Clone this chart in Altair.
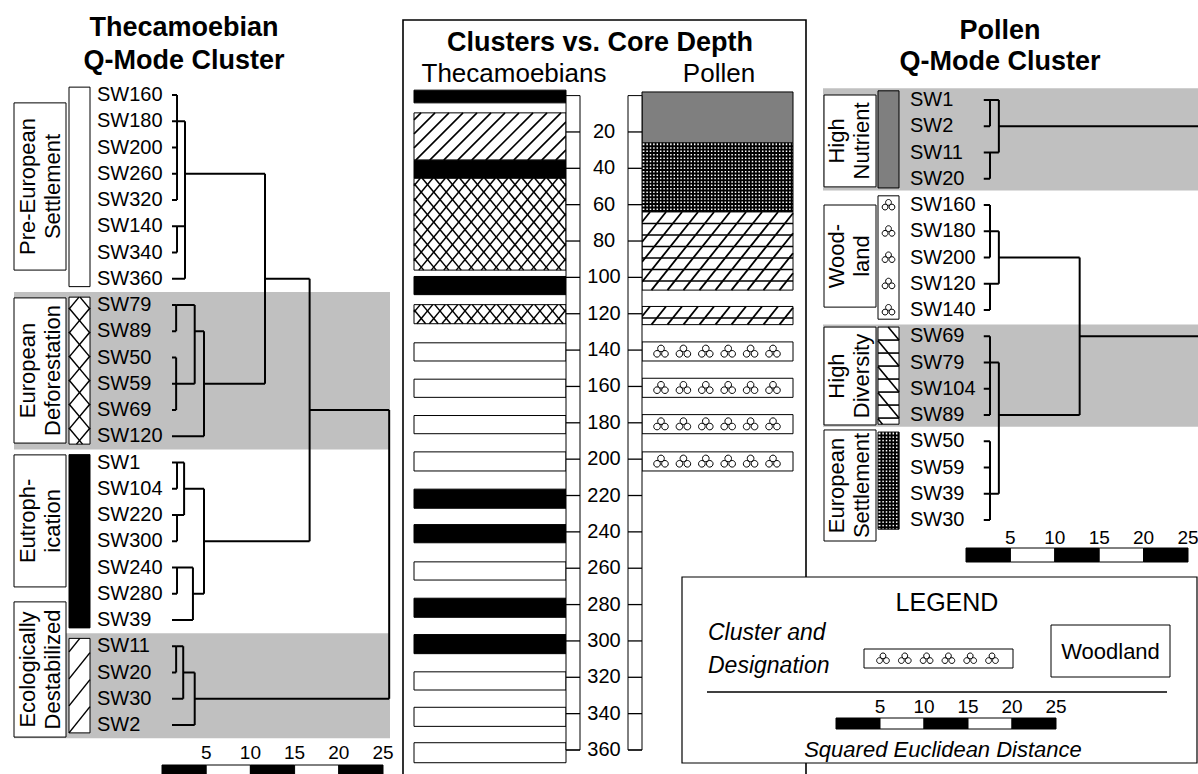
import altair as alt
import pandas as pd

W, H = 1198, 774
FONT = "Liberation Sans"

# ------------------------------------------------------------------ data
# Thecamoebian Q-mode cluster (left dendrogram), leaves top to bottom
thec_labels = ["SW160", "SW180", "SW200", "SW260", "SW320", "SW140", "SW340", "SW360",
               "SW79", "SW89", "SW50", "SW59", "SW69", "SW120",
               "SW1", "SW104", "SW220", "SW300", "SW240", "SW280", "SW39",
               "SW11", "SW20", "SW30", "SW2"]
thec_leaf_cluster = [0] * 8 + [1] * 6 + [2] * 7 + [3] * 4
thec_cluster_names = ["Pre-European Settlement", "European Deforestation",
                      "Eutrophication", "Ecologically Destabilized"]
thec_cluster_lines = [["Pre-European", "Settlement"], ["European", "Deforestation"],
                      ["Eutroph-", "ication"], ["Ecologically", "Destabilized"]]
# merges: (node, children, squared euclidean distance, leaf row the node continues from)
thec_merges = [
    ("a1", ["SW160", "SW180", "SW200", "SW260", "SW320"], 1.7, 1),
    ("a2", ["SW140", "SW340"], 1.7, 5),
    ("a3", ["a1", "a2", "SW360"], 2.6, 3),
    ("b1", ["SW79", "SW89"], 1.6, 8),
    ("b2", ["SW50", "SW59", "SW69"], 1.6, 11),
    ("b3", ["b1", "b2"], 3.7, 9),
    ("b4", ["b3", "SW120"], 4.75, 11),
    ("c0", ["a3", "b4"], 11.65, 7),
    ("e1", ["SW1", "SW104"], 1.7, 14),
    ("e2", ["SW220", "SW300"], 1.7, 16),
    ("e3", ["e1", "e2"], 2.5, 15),
    ("e4", ["SW240", "SW280"], 1.7, 18),
    ("e5", ["e4", "SW39"], 3.5, 19),
    ("e6", ["e3", "e5"], 4.75, 17),
    ("c1", ["c0", "e6"], 16.7, 12),
    ("d1", ["SW11", "SW20"], 1.6, 21),
    ("d2", ["d1", "SW30"], 2.4, 22),
    ("d3", ["d2", "SW2"], 3.7, 23),
    ("root", ["c1", "d3"], 25.7, 17),
]

# Pollen Q-mode cluster (right dendrogram)
pollen_labels = ["SW1", "SW2", "SW11", "SW20", "SW160", "SW180", "SW200", "SW120", "SW140",
                 "SW69", "SW79", "SW104", "SW89", "SW50", "SW59", "SW39", "SW30"]
pollen_leaf_cluster = [0] * 4 + [1] * 5 + [2] * 4 + [3] * 4
pollen_cluster_names = ["High Nutrient", "Woodland", "High Diversity", "European Settlement"]
pollen_cluster_lines = [["High", "Nutrient"], ["Wood-", "land"],
                        ["High", "Diversity"], ["European", "Settlement"]]
pollen_merges = [
    ("p1", ["SW1", "SW2"], 2.7, 0),
    ("p2", ["SW11", "SW20"], 2.7, 2),
    ("p3", ["p1", "p2"], 3.7, 1),
    ("p4", ["SW160", "SW180", "SW200"], 2.7, 5),
    ("p5", ["SW120", "SW140"], 2.7, 7),
    ("p6", ["p4", "p5"], 3.7, 6),
    ("p7", ["SW69", "SW79", "SW104", "SW89"], 2.7, 10),
    ("p8", ["SW50", "SW59", "SW39", "SW30"], 2.7, 15),
    ("p9", ["p7", "p8"], 3.7, 12),
    ("p10", ["p6", "p9"], 12.8, 9),
    ("root", ["p3", "p10"], 27.0, 5),
]

# Clusters vs. core depth (cm)
thec_bar_top = [-3, 9.5, 35.5, 45.5, 99.5, 115, 136, 156, 176, 196, 216.5, 236,
                256.5, 276.5, 296.5, 317, 336.5, 356]
thec_bar_bottom = [4, 35.5, 45.5, 96, 109.5, 125.5, 146, 166, 186, 206.5, 227, 246,
                   266.5, 287, 307, 327, 347, 367]
thec_bar_cluster = [2, 3, 2, 1, 2, 1, 0, 0, 0, 0, 2, 2, 0, 2, 2, 0, 0, 0]
pollen_bar_top = [-2, 26, 64, 116, 135.5, 155.5, 175.5, 196]
pollen_bar_bottom = [26, 64, 107, 126, 146, 166, 186, 206.5]
pollen_bar_cluster = [0, 3, 2, 2, 1, 1, 1, 1]
depth_ticks = [20, 40, 60, 80, 100, 120, 140, 160, 180, 200, 220, 240, 260, 280, 300,
               320, 340, 360]
distance_ticks = [5, 10, 15, 20, 25]

# ------------------------------------------------------------------ scales
def S(domain, rng):
    return alt.Scale(domain=list(domain), range=list(rng), nice=False, zero=False)

PX_X = S([0, W], [0, W])
PX_Y = S([0, H], [0, H])
XL = S([0, 25], [162, 383]);   YL = S([0, 24], [95, 725])
XR = S([0, 25], [966, 1188]);  YR = S([0, 16], [100, 520])
YD = S([0, 360], [95.6, 750]); XG = S([0, 25], [836, 1056])
KL = (725 - 95) / 24
KR = (520 - 100) / 16
KD = (750 - 95.6) / 360


def geo(rows, mark, xs, ys, **mk):
    df = pd.DataFrame(rows)
    enc = {"x": alt.X("x:Q", scale=xs, axis=None), "y": alt.Y("y:Q", scale=ys, axis=None)}
    if "x2" in df.columns:
        enc["x2"] = alt.X2("x2")
    if "y2" in df.columns:
        enc["y2"] = alt.Y2("y2")
    if "fill" in df.columns:
        enc["fill"] = alt.Fill("fill:N", scale=None)
    if "stroke" in df.columns:
        enc["stroke"] = alt.Stroke("stroke:N", scale=None)
    if "sw" in df.columns:
        enc["strokeWidth"] = alt.StrokeWidth("sw:Q", scale=None)
    if "t" in df.columns:
        enc["text"] = alt.Text("t:N")
    return getattr(alt.Chart(df), "mark_" + mark)(**mk).encode(**enc)


def tree_segments(labels, merges, leaf_start):
    pos = {lab: (leaf_start, i) for i, lab in enumerate(labels)}
    segs = []
    for node, kids, d, row in merges:
        krows = []
        for k in kids:
            kx, kr = pos[k]
            segs.append(dict(x=kx, x2=d, y=kr, y2=kr))
            krows.append(kr)
        segs.append(dict(x=d, x2=d, y=min(krows), y2=max(krows)))
        pos[node] = (d, row)
    return segs


def spans(leaf_cluster):
    sp = {}
    for i, c in enumerate(leaf_cluster):
        lo, hi = sp.get(c, (i, i))
        sp[c] = (min(lo, i), max(hi, i))
    return [sp[c] for c in sorted(sp)]


def hatch(x0, x1, ya, yb, k, kind, dc, m=1.0, sw=1.2):
    """texture lines inside a box; x in pixels, y in data units (k px per unit)"""
    Hh = (yb - ya) * k
    Wd = x1 - x0
    out = []
    if kind == "/":
        c = dc / 2
        while c < m * Wd + Hh:
            Ya, Yb = max(0, c - m * Wd), min(Hh, c)
            if Yb > Ya:
                out.append(dict(x=x0 + (c - Ya) / m, y=ya + Ya / k,
                                x2=x0 + (c - Yb) / m, y2=ya + Yb / k, sw=sw))
            c += dc
    elif kind == "\\":
        c = -m * Wd + dc / 2
        while c < Hh:
            Ya, Yb = max(0, c), min(Hh, c + m * Wd)
            if Yb > Ya:
                out.append(dict(x=x0 + (Ya - c) / m, y=ya + Ya / k,
                                x2=x0 + (Yb - c) / m, y2=ya + Yb / k, sw=sw))
            c += dc
    elif kind == "-":
        Y = dc
        while Y < Hh - 0.5:
            out.append(dict(x=x0, x2=x1, y=ya + Y / k, y2=ya + Y / k, sw=sw))
            Y += dc
    elif kind == "|":
        X = dc
        while X < Wd - 0.5:
            out.append(dict(x=x0 + X, x2=x0 + X, y=ya, y2=yb, sw=sw))
            X += dc
    return out


# glyph for the Woodland cluster: three small loops
def circ(cx, cy, r):
    return (f"M{cx - r},{cy}A{r},{r} 0 1,1 {cx + r},{cy}"
            f"A{r},{r} 0 1,1 {cx - r},{cy}Z")

GLYPH = circ(0, -0.38, 0.42) + circ(-0.5, 0.3, 0.42) + circ(0.5, 0.3, 0.42)

THEC_FILL = ["white", "white", "black", "white"]
THEC_TEX = [[], [("/", 15, 1.2, 1.5), ("\\", 15, 1.2, 1.5)], [], [("/", 14, 1.0, 1.6)]]
THEC_STRIP_TEX = [[], [("/", 24, 1.2, 1.5), ("\\", 24, 1.2, 1.5)], [], [("/", 27, 1.25, 1.5)]]
POL_FILL = ["#7f7f7f", "white", "white", "white"]
POL_TEX = [[], [], [("/", 20, 1.25, 1.8), ("-", 11.5, 1, 1.6)],
           [("|", 3.4, 1, 1.9), ("-", 3.4, 1, 1.9)]]
POL_STRIP_TEX = [[], [], [("\\", 26, 1.2, 1.6), ("-", 13, 1, 1.6)],
                 [("|", 3.4, 1, 1.9), ("-", 3.4, 1, 1.9)]]
SHADE = "#c0c0c0"


def tex_lines(x0, x1, ya, yb, k, spec):
    out = []
    for s in spec:
        kind, dc, m = s[0], s[1], s[2]
        sw = s[3] if len(s) > 3 else 1.3
        out += hatch(x0, x1, ya, yb, k, kind, dc, m, sw)
    return out


layers = []

# ------------------------------------------------------------------ shaded bands
L_sp = spans(thec_leaf_cluster)
R_sp = spans(pollen_leaf_cluster)
layers.append(geo([dict(x=14, x2=390, y=lo - 0.5, y2=hi + 0.5)
                   for c, (lo, hi) in enumerate(L_sp) if c in (1, 3)],
                  "rect", PX_X, YL, fill=SHADE))
layers.append(geo([dict(x=823, x2=W + 5, y=lo - 0.45, y2=hi + 0.45)
                   for c, (lo, hi) in enumerate(R_sp) if c in (0, 2)],
                  "rect", PX_X, YR, fill=SHADE))

# centre frame
layers.append(geo([dict(x=403, x2=806, y=20, y2=H + 20)], "rect", PX_X, PX_Y,
                  fillOpacity=0, stroke="black", strokeWidth=1.6))

# ------------------------------------------------------------------ left panel
thec_box_rows = [(0.3, 6.67), (7.73, 13.26), (13.71, 18.74), (19.31, 24.46)]
layers.append(geo([dict(x=14, x2=66, y=a, y2=b) for a, b in thec_box_rows],
                  "rect", PX_X, YL, fill="white", stroke="black", strokeWidth=1))
layers.append(geo([dict(x=[28, 53][j], y=(a + b) / 2, t=ln)
                   for (a, b), lines in zip(thec_box_rows, thec_cluster_lines)
                   for j, ln in enumerate(lines)],
                  "text", PX_X, YL, angle=270, font=FONT, fontSize=22,
                  align="center", baseline="middle", color="black"))
strip_rows, strip_tex = [], []
for c, (lo, hi) in enumerate(L_sp):
    strip_rows.append(dict(x=69, x2=90, y=lo - 0.3, y2=hi + 0.3, fill=THEC_FILL[c]))
    strip_tex += tex_lines(69, 90, lo - 0.3, hi + 0.3, KL, THEC_STRIP_TEX[c])
layers.append(geo(strip_rows, "rect", PX_X, YL, stroke="black", strokeWidth=1))
layers.append(geo(strip_tex, "rule", PX_X, YL, color="black"))
layers.append(geo([dict(x=97, y=i, t=lab) for i, lab in enumerate(thec_labels)],
                  "text", PX_X, YL, font=FONT, fontSize=20, align="left",
                  baseline="middle", color="black"))
layers.append(geo(tree_segments(thec_labels, thec_merges, 1.13), "rule", XL, YL,
                  color="black", strokeWidth=2))
bounds = [0] + distance_ticks
layers.append(geo([dict(x=bounds[i], x2=bounds[i + 1], y=765, y2=790,
                        fill="black" if i % 2 == 0 else "white") for i in range(5)],
                  "rect", XL, PX_Y, stroke="black", strokeWidth=1))
layers.append(geo([dict(x=t, y=753, t=str(t)) for t in distance_ticks], "text", XL, PX_Y,
                  font=FONT, fontSize=19, align="center", baseline="middle", color="black"))

# ------------------------------------------------------------------ right panel
pollen_box_rows = [(-0.19, 3.31), (4.0, 7.89), (8.65, 12.38), (12.57, 16.8)]
layers.append(geo([dict(x=824, x2=876, y=a, y2=b) for a, b in pollen_box_rows],
                  "rect", PX_X, YR, fill="white", stroke="black", strokeWidth=1))
layers.append(geo([dict(x=[837, 862][j], y=(a + b) / 2, t=ln)
                   for (a, b), lines in zip(pollen_box_rows, pollen_cluster_lines)
                   for j, ln in enumerate(lines)],
                  "text", PX_X, YR, angle=270, font=FONT, fontSize=22,
                  align="center", baseline="middle", color="black"))
strip_rows, strip_tex, strip_glyph = [], [], []
for c, (lo, hi) in enumerate(R_sp):
    strip_rows.append(dict(x=878, x2=899, y=lo - 0.35, y2=hi + 0.35, fill=POL_FILL[c]))
    strip_tex += tex_lines(878, 899, lo - 0.35, hi + 0.35, KR, POL_STRIP_TEX[c])
    if c == 1:
        strip_glyph += [dict(x=888.5, y=r) for r in range(lo, hi + 1)]
layers.append(geo(strip_rows, "rect", PX_X, YR, stroke="black", strokeWidth=1))
layers.append(geo(strip_tex, "rule", PX_X, YR, color="black"))
layers.append(geo(strip_glyph, "point", PX_X, YR, shape=GLYPH, filled=False,
                  stroke="black", strokeWidth=1, size=190, opacity=1))
layers.append(geo([dict(x=910, y=i, t=lab) for i, lab in enumerate(pollen_labels)],
                  "text", PX_X, YR, font=FONT, fontSize=20, align="left",
                  baseline="middle", color="black"))
layers.append(geo(tree_segments(pollen_labels, pollen_merges, 2.0), "rule", XR, YR,
                  color="black", strokeWidth=2))
layers.append(geo([dict(x=bounds[i], x2=bounds[i + 1], y=548, y2=562,
                        fill="black" if i % 2 == 0 else "white") for i in range(5)],
                  "rect", XR, PX_Y, stroke="black", strokeWidth=1))
layers.append(geo([dict(x=t, y=538, t=str(t)) for t in distance_ticks], "text", XR, PX_Y,
                  font=FONT, fontSize=19, align="center", baseline="middle", color="black"))

# ------------------------------------------------------------------ centre: clusters vs depth
bar_rows, bar_tex, bar_glyph = [], [], []
for t, b, c in zip(thec_bar_top, thec_bar_bottom, thec_bar_cluster):
    bar_rows.append(dict(x=414, x2=566, y=t, y2=b, fill=THEC_FILL[c]))
    bar_tex += tex_lines(414, 566, t, b, KD, THEC_TEX[c])
for t, b, c in zip(pollen_bar_top, pollen_bar_bottom, pollen_bar_cluster):
    bar_rows.append(dict(x=642, x2=793, y=t, y2=b, fill=POL_FILL[c]))
    bar_tex += tex_lines(642, 793, t, b, KD, POL_TEX[c])
    if c == 1:
        bar_glyph += [dict(x=661 + 22.4 * i, y=(t + b) / 2) for i in range(6)]
layers.append(geo(bar_rows, "rect", PX_X, YD, stroke="black", strokeWidth=1))
layers.append(geo(bar_tex, "rule", PX_X, YD, color="black"))
layers.append(geo(bar_glyph, "point", PX_X, YD, shape=GLYPH, filled=False,
                  stroke="black", strokeWidth=1, size=250, opacity=1))
layers.append(geo([dict(x=566, x2=580, y=0, y2=360), dict(x=628, x2=642, y=0, y2=360)],
                  "rect", PX_X, YD, fill="white", stroke="black", strokeWidth=1))
layers.append(geo([dict(x=x0, x2=x0 + 14, y=d, y2=d) for d in depth_ticks for x0 in (566, 628)],
                  "rule", PX_X, YD, color="black", strokeWidth=1.3))
layers.append(geo([dict(x=604, y=d, t=str(d)) for d in depth_ticks], "text", PX_X, YD,
                  font=FONT, fontSize=20, align="center", baseline="middle", color="black"))

# ------------------------------------------------------------------ titles
layers.append(geo([dict(x=184, y=28, t="Thecamoebian"), dict(x=184, y=61, t="Q-Mode Cluster"),
                   dict(x=600, y=43, t="Clusters vs. Core Depth"),
                   dict(x=1000, y=31, t="Pollen"), dict(x=1000, y=62, t="Q-Mode Cluster")],
                  "text", PX_X, PX_Y, font=FONT, fontSize=27, fontWeight="bold",
                  align="center", baseline="middle", color="black"))
layers.append(geo([dict(x=514, y=74, t="Thecamoebians"), dict(x=719, y=74, t="Pollen")],
                  "text", PX_X, PX_Y, font=FONT, fontSize=26,
                  align="center", baseline="middle", color="black"))

# ------------------------------------------------------------------ legend
layers.append(geo([dict(x=682, x2=1197, y=577, y2=763)], "rect", PX_X, PX_Y,
                  fill="white", stroke="black", strokeWidth=1.2))
layers.append(geo([dict(x=947, y=603, t="LEGEND")], "text", PX_X, PX_Y, font=FONT,
                  fontSize=25, align="center", baseline="middle", color="black"))
layers.append(geo([dict(x=708, y=633, t="Cluster and"), dict(x=708, y=666, t="Designation")],
                  "text", PX_X, PX_Y, font=FONT, fontSize=23, fontStyle="italic",
                  align="left", baseline="middle", color="black"))
layers.append(geo([dict(x=864, x2=1013, y=649, y2=668), dict(x=1051, x2=1170, y=625, y2=677)],
                  "rect", PX_X, PX_Y, fill="white", stroke="black", strokeWidth=1))
layers.append(geo([dict(x=883 + 21.8 * i, y=658.5) for i in range(6)], "point", PX_X, PX_Y,
                  shape=GLYPH, filled=False, stroke="black", strokeWidth=1, size=190, opacity=1))
layers.append(geo([dict(x=1110.5, y=652, t="Woodland")], "text", PX_X, PX_Y, font=FONT,
                  fontSize=22, align="center", baseline="middle", color="black"))
layers.append(geo([dict(x=707, x2=1167, y=692, y2=692)], "rule", PX_X, PX_Y,
                  color="black", strokeWidth=1.3))
layers.append(geo([dict(x=bounds[i], x2=bounds[i + 1], y=718, y2=729,
                        fill="black" if i % 2 == 0 else "white") for i in range(5)],
                  "rect", XG, PX_Y, stroke="black", strokeWidth=1))
layers.append(geo([dict(x=t, y=707, t=str(t)) for t in distance_ticks], "text", XG, PX_Y,
                  font=FONT, fontSize=19, align="center", baseline="middle", color="black"))
layers.append(geo([dict(x=943, y=750, t="Squared Euclidean Distance")], "text", PX_X, PX_Y,
                  font=FONT, fontSize=22, fontStyle="italic", align="center",
                  baseline="middle", color="black"))

chart = (
    alt.layer(*layers)
    .resolve_scale(x="independent", y="independent")
    .properties(width=W, height=H, padding=0, background="white",
                autosize=alt.AutoSizeParams(type="fit", contains="padding"))
    .configure_view(strokeWidth=0)
)
chart.save("out.html", embed_options={"renderer": "svg", "actions": False})
